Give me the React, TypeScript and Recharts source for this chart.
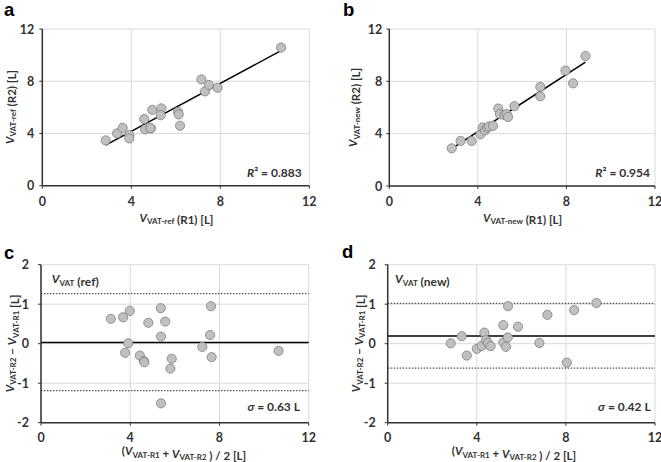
import React from 'react';
import { ScatterChart, Scatter, XAxis, YAxis, CartesianGrid, ReferenceLine } from 'recharts';

// ---- Data ----
const refR1 = [2.85, 3.36, 3.61, 3.91, 3.91, 4.58, 4.62, 4.88, 4.86, 4.94, 5.35, 5.32, 6.10, 6.13, 6.19, 7.15, 7.31, 7.49, 7.88, 10.73];
const refR2 = [3.47, 4.00, 4.43, 3.88, 3.62, 5.10, 4.31, 4.39, 4.41, 5.81, 5.92, 5.40, 5.66, 5.46, 4.59, 8.14, 7.22, 7.71, 7.50, 10.58];

const newR1 = [2.82, 3.22, 3.72, 4.12, 4.22, 4.32, 4.42, 4.50, 4.68, 4.92, 5.00, 5.20, 5.30, 5.36, 5.65, 6.82, 6.82, 7.96, 8.30, 8.86];
const newR2 = [2.88, 3.45, 3.44, 3.95, 4.47, 4.25, 4.45, 4.55, 4.60, 5.92, 5.50, 5.42, 5.50, 5.28, 6.10, 7.58, 6.86, 8.82, 7.85, 9.93];

const refMean = [3.13, 3.68, 3.98, 3.91, 3.77, 4.43, 4.62, 4.63, 4.81, 5.37, 5.57, 5.38, 5.86, 5.80, 5.38, 7.62, 7.58, 7.23, 7.65, 10.65];
const refDiff = [0.63, 0.67, 0.83, 0.01, -0.23, -0.30, -0.44, -0.47, 0.53, 0.90, 0.56, 0.18, -0.38, -0.63, -1.51, 0.95, 0.22, -0.08, -0.34, -0.18];

const newMean = [2.83, 3.32, 3.55, 4.00, 4.22, 4.34, 4.41, 4.50, 4.62, 5.19, 5.19, 5.31, 5.39, 5.85, 5.40, 6.81, 7.17, 8.04, 8.37, 9.37];
const newDiff = [0.01, 0.19, -0.30, -0.13, -0.06, 0.28, 0.09, 0.02, -0.06, 0.47, 0.03, -0.08, 0.16, 0.43, 0.95, 0.02, 0.73, -0.48, 0.85, 1.03];

const xTicks = [0, 4, 8, 12];
const corrYTicks = [0, 4, 8, 12];
const baYTicks = [-2, -1, 0, 1, 2];

// trend line end points [x1, y1, x2, y2]
const refTrend = [2.85, 3.11, 10.73, 10.34];
const newTrend = [2.80, 2.84, 8.86, 9.46];

// Bland-Altman: [mean, upper limit, lower limit]
const refLimits = [0.03, 1.27, -1.19];
const newLimits = [0.195, 1.02, -0.62];

const toPts = (xs: number[], ys: number[]) => xs.map((x, i) => ({ x, y: ys[i] }));

const AX = '#333333';
const FONT = 'Lato, "Liberation Sans", sans-serif';
const TXT = '#333333';

const Dot = (props: any) => (
  <circle cx={props.cx} cy={props.cy} r={4.6} fill="#c0c0c0" stroke="#7f7f7f" strokeWidth={0.8} />
);

type PanelProps = {
  left: number; top: number; width: number; height: number;
  plot: { l: number; r: number; t: number; b: number };
  yDomain: [number, number]; yTicks: number[];
  points: { x: number; y: number }[];
  trend?: number[]; limits?: number[]; meanColor?: string; meanWidth?: number;
  yGap: number; xLabelDy: number;
};

function Panel(p: PanelProps) {
  const { plot } = p;
  return (
    <div style={{ position: 'absolute', left: p.left, top: p.top }}>
      <ScatterChart width={p.width} height={p.height}
        margin={{ top: plot.t, right: p.width - plot.r, bottom: 0, left: 0 }}>
        <CartesianGrid stroke="#d9d9d9" strokeWidth={1} />
        <XAxis type="number" dataKey="x" domain={[0, 12]} ticks={xTicks} interval={0}
          height={p.height - plot.b} allowDataOverflow
          axisLine={{ stroke: AX, strokeWidth: 1.5 }} tickLine={{ stroke: AX, strokeWidth: 1 }} tickSize={3}
          tick={(t: any) => (
            <text x={t.x} y={plot.b + p.xLabelDy} textAnchor="middle" fontFamily={FONT}
              fontWeight={700} fontSize={12.5} fill={TXT}>{t.payload.value}</text>
          )} />
        <YAxis type="number" dataKey="y" domain={p.yDomain} ticks={p.yTicks} interval={0}
          width={plot.l} allowDataOverflow
          axisLine={{ stroke: AX, strokeWidth: 1.5 }} tickLine={{ stroke: AX, strokeWidth: 1 }} tickSize={3}
          tick={(t: any) => (
            <text x={plot.l - p.yGap} y={t.y} dy="0.36em" textAnchor="end" fontFamily={FONT}
              fontWeight={700} fontSize={12.5} fill={TXT}>{t.payload.value}</text>
          )} />
        {p.limits && (
          <ReferenceLine y={p.limits[1]} stroke="#555" strokeWidth={1.2} strokeDasharray="1.5 1.5" />
        )}
        {p.limits && (
          <ReferenceLine y={p.limits[2]} stroke="#555" strokeWidth={1.2} strokeDasharray="1.5 1.5" />
        )}
        {p.limits && (
          <ReferenceLine y={p.limits[0]} stroke={p.meanColor || '#000'} strokeWidth={p.meanWidth || 1.6} />
        )}
        <Scatter data={p.points} isAnimationActive={false} shape={Dot} />
        {p.trend && (
          <ReferenceLine segment={[{ x: p.trend[0], y: p.trend[1] }, { x: p.trend[2], y: p.trend[3] }]}
            stroke="#000" strokeWidth={1.5} ifOverflow="visible" />
        )}
      </ScatterChart>
    </div>
  );
}

const tStyle: React.CSSProperties = { fontFamily: FONT, fontWeight: 700, fontSize: 11.5, fill: TXT, whiteSpace: 'pre' };
const SUB = 8;
const SD = 2.6;

function VSub({ sub }: { sub: string }) {
  return (
    <>
      <tspan fontStyle="italic">V</tspan>
      <tspan fontSize={SUB} dy={SD}>{sub}</tspan>
      <tspan dy={-SD}>{''}</tspan>
    </>
  );
}

const LETTER_FONT = '"Liberation Sans", Arial, sans-serif';

export default function App() {
  return (
    <div style={{ position: 'absolute', left: 0, top: 0, width: 661, height: 462, background: '#fff', overflow: 'hidden' }}>
      <Panel left={0} top={0} width={330} height={231}
        plot={{ l: 42.3, r: 309.3, t: 29, b: 185.7 }} yDomain={[0, 12]} yTicks={corrYTicks}
        points={toPts(refR1, refR2)} trend={refTrend} yGap={8} xLabelDy={20} />
      <Panel left={330} top={0} width={331} height={231}
        plot={{ l: 59.3, r: 325, t: 29, b: 186 }} yDomain={[0, 12]} yTicks={corrYTicks}
        points={toPts(newR1, newR2)} trend={newTrend} yGap={7} xLabelDy={20} />
      <Panel left={0} top={231} width={330} height={231}
        plot={{ l: 41, r: 308.7, t: 33.7, b: 191.7 }} yDomain={[-2, 2]} yTicks={baYTicks}
        points={toPts(refMean, refDiff)} limits={refLimits} meanColor="#000" meanWidth={1.6}
        yGap={12} xLabelDy={19.5} />
      <Panel left={330} top={231} width={331} height={231}
        plot={{ l: 57.7, r: 325, t: 33.7, b: 191.7 }} yDomain={[-2, 2]} yTicks={baYTicks}
        points={toPts(newMean, newDiff)} limits={newLimits} meanColor="#404040" meanWidth={2}
        yGap={12} xLabelDy={19.5} />

      <svg width={661} height={462} style={{ position: 'absolute', left: 0, top: 0, pointerEvents: 'none' }}>
        {/* panel letters */}
        <text x={4} y={15.5} fontFamily={LETTER_FONT} fontWeight={700} fontSize={18.5} fill="#000">a</text>
        <text x={343} y={15.5} fontFamily={LETTER_FONT} fontWeight={700} fontSize={18.5} fill="#000">b</text>
        <text x={4} y={259} fontFamily={LETTER_FONT} fontWeight={700} fontSize={18.5} fill="#000">c</text>
        <text x={342} y={258} fontFamily={LETTER_FONT} fontWeight={700} fontSize={18.5} fill="#000">d</text>

        {/* panel a titles */}
        <text x={176.5} y={221.5} textAnchor="middle" style={tStyle}>
          <VSub sub="VAT-ref" /><tspan>{' (R1) [L]'}</tspan>
        </text>
        <text transform="translate(13.5,107) rotate(-90)" textAnchor="middle" style={tStyle}>
          <VSub sub="VAT-ref" /><tspan>{' (R2) [L]'}</tspan>
        </text>
        <text x={301.7} y={176.5} textAnchor="end" style={{ ...tStyle, fontSize: 12 }}>
          <tspan fontStyle="italic">R</tspan><tspan>{'² = 0.883'}</tspan>
        </text>

        {/* panel b titles */}
        <text x={522.5} y={221.5} textAnchor="middle" style={tStyle}>
          <VSub sub="VAT-new" /><tspan>{' (R1) [L]'}</tspan>
        </text>
        <text transform="translate(357,107.5) rotate(-90)" textAnchor="middle" style={tStyle}>
          <VSub sub="VAT-new" /><tspan>{' (R2) [L]'}</tspan>
        </text>
        <text x={650} y={176.5} textAnchor="end" style={{ ...tStyle, fontSize: 12 }}>
          <tspan fontStyle="italic">R</tspan><tspan>{'² = 0.954'}</tspan>
        </text>

        {/* panel c titles */}
        <text x={184} y={455} textAnchor="middle" style={tStyle}>
          <tspan>(</tspan><VSub sub="VAT-R1" /><tspan>{' + '}</tspan><VSub sub="VAT-R2" /><tspan>{' ) / 2 [L]'}</tspan>
        </text>
        <text transform="translate(13.5,343.5) rotate(-90)" textAnchor="middle" style={tStyle}>
          <VSub sub="VAT-R2" /><tspan>{' \u2212 '}</tspan><VSub sub="VAT-R1" /><tspan>{' [L]'}</tspan>
        </text>
        <text x={51.7} y={283} style={{ ...tStyle, fontSize: 12 }}>
          <VSub sub="VAT" /><tspan>{' (ref)'}</tspan>
        </text>
        <text x={300} y={411} textAnchor="end" style={{ ...tStyle, fontSize: 12 }}>
          <tspan fontStyle="italic">σ</tspan><tspan>{' = 0.63 L'}</tspan>
        </text>

        {/* panel d titles */}
        <text x={514} y={455} textAnchor="middle" style={tStyle}>
          <tspan>(</tspan><VSub sub="VAT-R1" /><tspan>{' + '}</tspan><VSub sub="VAT-R2" /><tspan>{' ) / 2 [L]'}</tspan>
        </text>
        <text transform="translate(360,343.5) rotate(-90)" textAnchor="middle" style={tStyle}>
          <VSub sub="VAT-R2" /><tspan>{' \u2212 '}</tspan><VSub sub="VAT-R1" /><tspan>{' [L]'}</tspan>
        </text>
        <text x={395} y={283} style={{ ...tStyle, fontSize: 12 }}>
          <VSub sub="VAT" /><tspan>{' (new)'}</tspan>
        </text>
        <text x={650.7} y={411} textAnchor="end" style={{ ...tStyle, fontSize: 12 }}>
          <tspan fontStyle="italic">σ</tspan><tspan>{' = 0.42 L'}</tspan>
        </text>
      </svg>
    </div>
  );
}
